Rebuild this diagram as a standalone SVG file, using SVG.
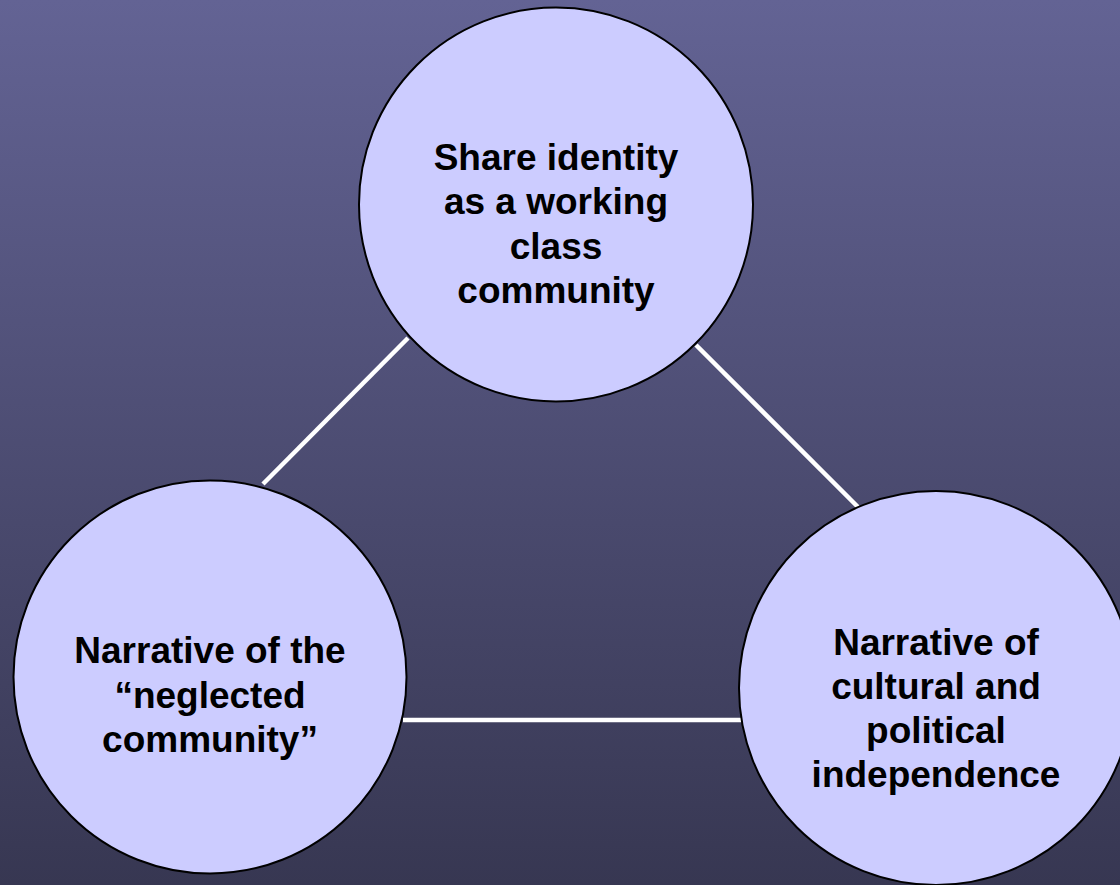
<svg xmlns="http://www.w3.org/2000/svg" width="1120" height="885" viewBox="0 0 1120 885">
  <defs>
    <linearGradient id="bg" x1="0" y1="0" x2="0" y2="1">
      <stop offset="0" stop-color="#636394"/>
      <stop offset="1" stop-color="#373752"/>
    </linearGradient>
    <style>
      .node { fill: #CCCCFF; stroke: #000000; stroke-width: 2; }
      .conn { stroke: #FFFFFF; stroke-width: 4.5; fill: none; }
      .label { font-family: "Liberation Sans", Arial, sans-serif; font-weight: bold; font-size: 37px; fill: #000000; text-anchor: middle; }
    </style>
  </defs>
  <rect x="0" y="0" width="1120" height="885" fill="url(#bg)"/>
  <g id="connectors">
    <line class="conn" x1="408" y1="338" x2="263" y2="484"/>
    <line class="conn" x1="696" y1="345" x2="858" y2="507"/>
    <line class="conn" x1="403" y1="720" x2="742" y2="720"/>
  </g>
  <g id="node-top">
    <circle class="node" cx="556" cy="204.5" r="197"/>
    <text class="label" x="556" y="170">Share identity</text>
    <text class="label" x="556" y="214">as a working</text>
    <text class="label" x="556" y="259">class</text>
    <text class="label" x="556" y="303">community</text>
  </g>
  <g id="node-left">
    <circle class="node" cx="210" cy="677" r="196.5"/>
    <text class="label" x="210" y="663">Narrative of the</text>
    <text class="label" x="210" y="708">“neglected</text>
    <text class="label" x="210" y="752">community”</text>
  </g>
  <g id="node-right">
    <circle class="node" cx="936" cy="688" r="197"/>
    <text class="label" x="936" y="655">Narrative of</text>
    <text class="label" x="936" y="699">cultural and</text>
    <text class="label" x="936" y="743">political</text>
    <text class="label" x="936" y="787">independence</text>
  </g>
</svg>
